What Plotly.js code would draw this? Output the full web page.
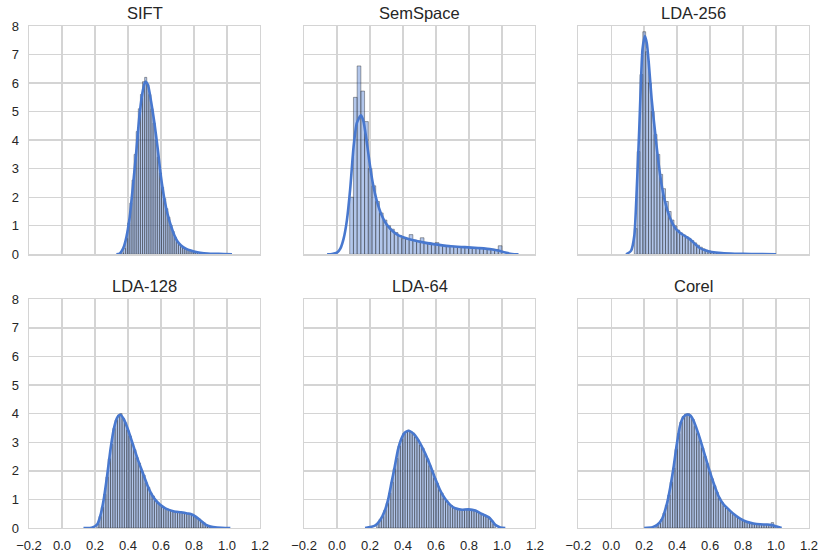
<!DOCTYPE html>
<html>
<head>
<meta charset="utf-8">
<script src="https://cdn.plot.ly/plotly-3.0.1.min.js"></script>
<style>
  html, body { margin: 0; padding: 0; background: #fff; }
  #chart { width: 820px; height: 556px; }
</style>
</head>
<body>
<div id="chart"></div>
<script>
// Distance distributions per feature space: histogram (density) + KDE curve.
const panelTitles = ["SIFT", "SemSpace", "LDA-256", "LDA-128", "LDA-64", "Corel"];

// ---- SIFT ----
const siftBinRange = [0.36, 1.0];
const siftHist = [0.05, 0.2, 0.55, 1.1, 1.8, 2.6, 3.5, 4.3, 5.1, 5.6,
                  6.05, 6.2, 5.95, 5.6, 5.1, 4.6, 4.0, 3.4, 2.85, 2.35,
                  1.95, 1.6, 1.3, 1.02, 0.8, 0.6, 0.45, 0.35, 0.27, 0.22,
                  0.2, 0.17, 0.14, 0.11, 0.09, 0.07, 0.06, 0.05, 0.04, 0.03,
                  0.03, 0.02, 0.02, 0.02, 0.01, 0.01, 0.01, 0.01, 0.01, 0.01];
const siftKdeX = [0.33, 0.35, 0.37, 0.39, 0.41, 0.43, 0.45, 0.47, 0.49, 0.505, 0.52, 0.54, 0.56, 0.58,
                  0.60, 0.62, 0.64, 0.66, 0.68, 0.70, 0.72, 0.75, 0.78, 0.82, 0.86, 0.92, 0.98, 1.03];
const siftKdeY = [0, 0.03, 0.2, 0.6, 1.3, 2.4, 3.6, 4.9, 5.75, 6.05, 5.95, 5.35, 4.6, 3.7,
                  2.7, 1.95, 1.4, 1.0, 0.68, 0.45, 0.32, 0.2, 0.13, 0.07, 0.04, 0.02, 0.01, 0];

// ---- SemSpace ----
const semBinRange = [0.077, 1.0];
const semHist = [2.0, 5.5, 6.6, 5.72, 4.65, 3.0, 2.4, 1.85, 1.45, 1.2,
                 1.0, 0.88, 0.76, 0.66, 0.55, 0.52, 0.69, 0.5, 0.47, 0.58,
                 0.42, 0.4, 0.38, 0.41, 0.33, 0.31, 0.3, 0.28, 0.27, 0.26,
                 0.25, 0.24, 0.24, 0.23, 0.22, 0.21, 0.2, 0.19, 0.18, 0.17, 0.3];
const semKdeX = [-0.06, -0.03, 0.0, 0.02, 0.04, 0.06, 0.08, 0.10, 0.12, 0.145, 0.16, 0.18, 0.20, 0.22,
                 0.24, 0.27, 0.30, 0.33, 0.37, 0.41, 0.47, 0.53, 0.61, 0.69, 0.775, 0.855, 0.935, 0.975,
                 1.02, 1.06, 1.10];
const semKdeY = [0, 0.01, 0.06, 0.2, 0.55, 1.2, 2.3, 3.75, 4.6, 4.87, 4.67, 3.95, 3.1, 2.4,
                 1.9, 1.38, 1.05, 0.85, 0.67, 0.58, 0.48, 0.41, 0.34, 0.28, 0.25, 0.22, 0.18, 0.13,
                 0.06, 0.01, 0];

// ---- LDA-256 ----
const lda256BinRange = [0.14, 1.0];
const lda256Hist = [0.9, 3.6, 6.3, 7.8, 7.1, 6.0, 5.0, 4.2, 3.5, 2.8,
                    2.3, 1.85, 1.5, 1.2, 1.0, 0.85, 0.75, 0.68, 0.62, 0.55,
                    0.48, 0.4, 0.32, 0.25, 0.19, 0.14, 0.11, 0.08, 0.06, 0.05,
                    0.04, 0.03, 0.03, 0.02, 0.02, 0.02, 0.01, 0.01, 0.01, 0.01,
                    0.01, 0.01, 0.01, 0.01, 0.01, 0.01, 0.01, 0.01, 0.01, 0.01];
const lda256KdeX = [0.09, 0.12, 0.14, 0.155, 0.17, 0.18, 0.19, 0.204, 0.216, 0.228, 0.245, 0.265, 0.285, 0.305,
                    0.325, 0.355, 0.385, 0.415, 0.445, 0.475, 0.505, 0.535, 0.57, 0.61, 0.67, 0.75, 0.85, 1.0];
const lda256KdeY = [0, 0.12, 0.65, 2.3, 4.4, 6.0, 7.2, 7.65, 7.39, 6.69, 5.45, 4.34, 3.29, 2.46,
                    1.88, 1.3, 0.95, 0.76, 0.65, 0.54, 0.38, 0.23, 0.14, 0.08, 0.04, 0.02, 0.01, 0];

// ---- LDA-128 ----
const lda128BinRange = [0.21, 0.91];
const lda128Hist = [0.14, 0.4, 0.72, 1.18, 1.78, 2.42, 2.92, 3.48, 3.78, 3.95,
                    4.0, 3.83, 3.68, 3.42, 3.22, 2.95, 2.74, 2.46, 2.27, 2.0,
                    1.85, 1.58, 1.42, 1.23, 1.12, 0.97, 0.9, 0.8, 0.76, 0.69,
                    0.67, 0.62, 0.61, 0.57, 0.58, 0.55, 0.56, 0.53, 0.53, 0.5,
                    0.5, 0.45, 0.42, 0.35, 0.31, 0.23, 0.18, 0.11, 0.07, 0.04];
const lda128KdeX = [0.13, 0.18, 0.215, 0.235, 0.255, 0.275, 0.295, 0.315, 0.335, 0.353, 0.373, 0.398, 0.428, 0.458,
                    0.488, 0.518, 0.548, 0.578, 0.61, 0.64, 0.68, 0.72, 0.76, 0.78, 0.81, 0.84, 0.87, 0.90,
                    0.94, 1.02];
const lda128KdeY = [0, 0.01, 0.14, 0.49, 1.08, 1.9, 2.8, 3.5, 3.87, 3.96, 3.82, 3.47, 2.95, 2.42,
                    1.95, 1.49, 1.13, 0.9, 0.75, 0.65, 0.58, 0.55, 0.51, 0.49, 0.4, 0.26, 0.12, 0.05,
                    0.02, 0];

// ---- LDA-64 ----
const lda64BinRange = [0.24, 0.96];
const lda64Hist = [0.16, 0.3, 0.4, 0.62, 0.86, 1.22, 1.6, 2.07, 2.43, 2.87,
                   3.1, 3.3, 3.35, 3.42, 3.36, 3.32, 3.18, 3.08, 2.9, 2.79,
                   2.58, 2.42, 2.18, 2.0, 1.74, 1.57, 1.34, 1.22, 1.04, 0.96,
                   0.84, 0.79, 0.71, 0.69, 0.65, 0.65, 0.63, 0.66, 0.64, 0.65,
                   0.62, 0.62, 0.56, 0.53, 0.47, 0.45, 0.39, 0.35, 0.25, 0.14];
const lda64KdeX = [0.17, 0.23, 0.26, 0.29, 0.31, 0.33, 0.35, 0.37, 0.39, 0.41, 0.433, 0.453, 0.473, 0.504,
                   0.534, 0.564, 0.595, 0.625, 0.655, 0.686, 0.716, 0.757, 0.797, 0.838, 0.878, 0.919, 0.939,
                   0.959, 0.99, 1.02];
const lda64KdeY = [0, 0.08, 0.26, 0.61, 1.0, 1.58, 2.15, 2.75, 3.12, 3.33, 3.4, 3.35, 3.24, 2.96,
                   2.61, 2.2, 1.73, 1.32, 1.02, 0.81, 0.69, 0.64, 0.65, 0.61, 0.49, 0.38, 0.26,
                   0.11, 0.02, 0];

// ---- Corel ----
const corelBinRange = [0.27, 1.0];
const corelHist = [0.1, 0.18, 0.3, 0.52, 0.8, 1.15, 1.6, 2.1, 2.75, 3.3,
                   3.7, 3.9, 3.98, 4.0, 3.92, 3.8, 3.55, 3.3, 3.05, 2.8,
                   2.5, 2.25, 1.98, 1.72, 1.48, 1.25, 1.05, 0.9, 0.78, 0.7,
                   0.62, 0.55, 0.48, 0.41, 0.35, 0.3, 0.26, 0.22, 0.2, 0.17,
                   0.15, 0.14, 0.13, 0.13, 0.12, 0.12, 0.13, 0.11, 0.19, 0.08];
const corelKdeX = [0.20, 0.25, 0.277, 0.307, 0.337, 0.358, 0.378, 0.398, 0.418, 0.438, 0.459, 0.479, 0.499, 0.529,
                   0.56, 0.59, 0.62, 0.65, 0.681, 0.711, 0.741, 0.782, 0.822, 0.863, 0.903, 0.943, 0.974,
                   1.004, 1.034];
const corelKdeY = [0, 0.03, 0.1, 0.3, 0.83, 1.42, 2.12, 2.94, 3.59, 3.88, 3.97, 3.94, 3.76, 3.29,
                   2.71, 2.12, 1.59, 1.13, 0.83, 0.66, 0.5, 0.33, 0.22, 0.16, 0.13, 0.12, 0.1,
                   0.05, 0];

const xTickVals = [-0.2, 0.0, 0.2, 0.4, 0.6, 0.8, 1.0, 1.2];
const xTickText = ['\u22120.2', '0.0', '0.2', '0.4', '0.6', '0.8', '1.0', '1.2'];
const yTickVals = [0, 1, 2, 3, 4, 5, 6, 7, 8];

const series = [
  { range: siftBinRange, hist: siftHist, kx: siftKdeX, ky: siftKdeY },
  { range: semBinRange, hist: semHist, kx: semKdeX, ky: semKdeY },
  { range: lda256BinRange, hist: lda256Hist, kx: lda256KdeX, ky: lda256KdeY },
  { range: lda128BinRange, hist: lda128Hist, kx: lda128KdeX, ky: lda128KdeY },
  { range: lda64BinRange, hist: lda64Hist, kx: lda64KdeX, ky: lda64KdeY },
  { range: corelBinRange, hist: corelHist, kx: corelKdeX, ky: corelKdeY }
];

// Grid geometry (paper fractions)
const colDomains = [[0, 0.2962], [0.3526, 0.6487], [0.7042, 1.0]];
const rowDomains = [[0.5452, 1.0], [0, 0.4556]];

const KDE_COLOR = '#4878CF';
const TEXT_COLOR = '#262626';
const GRID_COLOR = '#d4d4d4';
const FONT = 'Liberation Sans, Arial, sans-serif';

const traces = [];
const layout = {
  width: 820, height: 556,
  margin: { l: 29, r: 11, t: 26, b: 28, pad: 0 },
  paper_bgcolor: '#ffffff',
  plot_bgcolor: '#ffffff',
  showlegend: false,
  bargap: 0,
  font: { family: FONT, size: 13, color: TEXT_COLOR },
  annotations: []
};

series.forEach((s, k) => {
  const row = Math.floor(k / 3), col = k % 3;
  const sfx = k === 0 ? '' : String(k + 1);
  const xa = 'x' + sfx, ya = 'y' + sfx;
  const n = s.hist.length;
  const bw = (s.range[1] - s.range[0]) / n;
  const centers = s.hist.map((_, i) => s.range[0] + bw * (i + 0.5));

  traces.push({
    type: 'bar', x: centers, y: s.hist, width: bw,
    xaxis: xa, yaxis: ya,
    marker: { color: 'rgba(72,120,207,0.42)', line: { color: 'rgba(40,40,40,0.42)', width: 1 } },
    hoverinfo: 'skip'
  });
  traces.push({
    type: 'scatter', mode: 'lines', x: s.kx, y: s.ky,
    xaxis: xa, yaxis: ya,
    line: { color: KDE_COLOR, width: 2.6, shape: 'spline', smoothing: 0.6 },
    hoverinfo: 'skip'
  });

  layout['xaxis' + sfx] = {
    domain: colDomains[col], anchor: ya,
    range: [-0.2, 1.2], tickvals: xTickVals, ticktext: xTickText,
    showticklabels: row === 1, ticks: '', ticklabelstandoff: 5,
    showgrid: true, gridcolor: GRID_COLOR, gridwidth: 1.4,
    showline: true, linecolor: GRID_COLOR, linewidth: 1.4, mirror: true,
    zeroline: false, fixedrange: true,
    tickfont: { family: FONT, size: 13, color: TEXT_COLOR }
  };
  layout['yaxis' + sfx] = {
    domain: rowDomains[row], anchor: xa,
    range: [0, 8], tickvals: yTickVals,
    showticklabels: col === 0, ticks: '', ticklabelstandoff: 6,
    showgrid: true, gridcolor: GRID_COLOR, gridwidth: 1.4,
    showline: true, linecolor: GRID_COLOR, linewidth: 1.4, mirror: true,
    zeroline: false, fixedrange: true,
    tickfont: { family: FONT, size: 13, color: TEXT_COLOR }
  };

  layout.annotations.push({
    text: panelTitles[k], showarrow: false,
    xref: 'paper', yref: 'paper',
    x: (colDomains[col][0] + colDomains[col][1]) / 2,
    y: rowDomains[row][1],
    xanchor: 'center', yanchor: 'bottom', yshift: 2,
    font: { family: FONT, size: 16.5, color: TEXT_COLOR }
  });
});

Plotly.newPlot('chart', traces, layout, { staticPlot: true, displayModeBar: false });
</script>
</body>
</html>
